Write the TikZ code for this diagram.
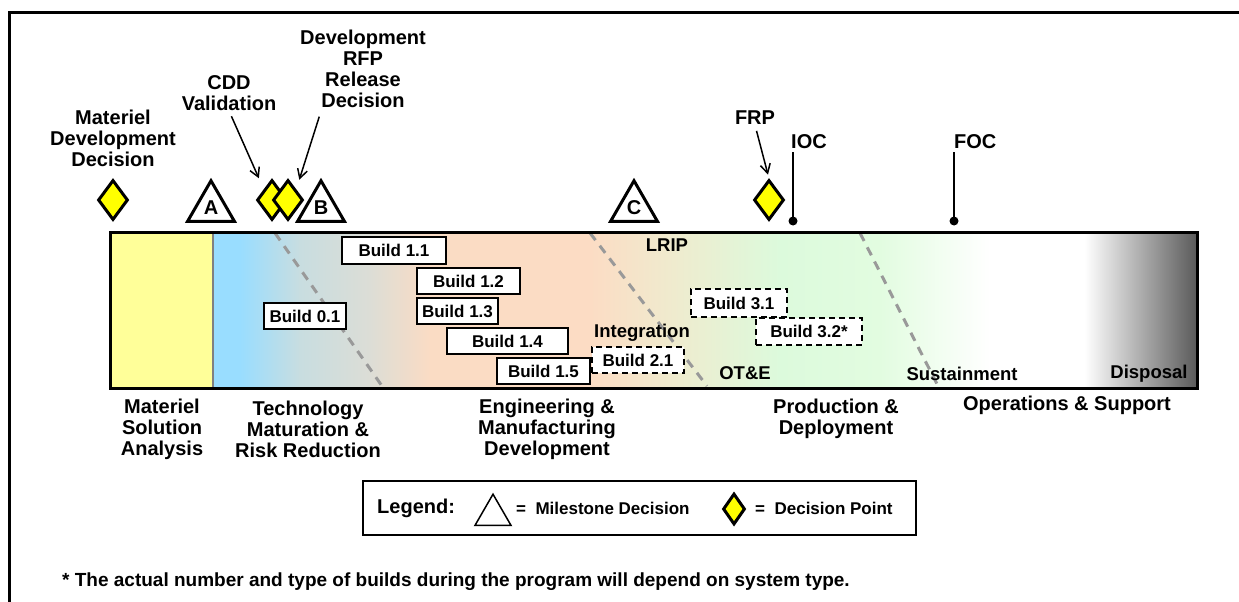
\documentclass[tikz,border=0pt]{standalone}
\usepackage{fontspec}
\setmainfont{Liberation Sans}
\usetikzlibrary{shapes.geometric,arrows.meta}

\definecolor{msayellow}{HTML}{FFFF99}
\definecolor{tmrblue}{HTML}{99DDFF}
\definecolor{tmrmid}{HTML}{C8DDE0}
\definecolor{tmrgray}{HTML}{DCDDD6}
\definecolor{emdpeach}{HTML}{FADCC4}
\definecolor{emdpeachb}{HTML}{FCDCC4}
\definecolor{lripmix}{HTML}{EEECCF}
\definecolor{pdgreen}{HTML}{DCFADC}
\definecolor{pdgreenb}{HTML}{E2FCE0}
\definecolor{dispgray}{HTML}{5A5A5A}
\definecolor{phaseline}{HTML}{999999}
\definecolor{dpyellow}{HTML}{FFFF00}

\newcommand{\boldsize}[1]{\fontsize{#1}{#1+1}\selectfont\bfseries}

\begin{document}
\begin{tikzpicture}[x=1pt,y=-1pt,
    toplbl/.style={font=\fontsize{20}{21}\selectfont\bfseries, align=center, inner sep=0pt},
    barlbl/.style={font=\fontsize{18.5}{19}\selectfont\bfseries, inner sep=0pt},
    buildbox/.style={draw, line width=2.5pt, fill=white, inner sep=0pt,
        minimum height=26pt, font=\fontsize{17}{18}\selectfont\bfseries},
    futurebox/.style={buildbox, dashed, dash pattern=on 6pt off 4pt},
    milestone/.style={regular polygon, regular polygon sides=3, draw, line width=3pt,
        fill=white, minimum size=54.3pt, inner sep=0pt, font=\fontsize{20}{21}\selectfont\bfseries},
    decpt/.style={diamond, draw, line width=3pt, fill=dpyellow, inner sep=0pt,
        minimum width=30pt, minimum height=40pt},
    dot/.style={circle, fill=black, inner sep=0pt, minimum size=9pt},
    pointer/.style={line width=1.5pt, ->, >={Straight Barb[length=9pt,width=10pt]}},
    phasedash/.style={phaseline, line width=3pt, dash pattern=on 9pt off 7pt},
    legtxt/.style={font=\fontsize{17}{18}\selectfont\bfseries, inner sep=0pt, anchor=west}]
    \useasboundingbox (0,0) rectangle (1239,602);

    % outer frame
    \draw[line width=3pt] (9,602) -- (9,13) -- (1239,13);

    % Phase bar
    \fill[msayellow] (110,232) rectangle (213,388);
    \fill[tmrblue] (213,232) rectangle (241,388);
    \foreach \xa/\xb/\ca/\cb in {240/300/tmrblue/tmrmid, 299.5/370/tmrmid/tmrgray,
        369.5/430/tmrgray/emdpeach, 429.5/590/emdpeach/emdpeachb,
        589.5/680/emdpeachb/lripmix, 679.5/780/lripmix/pdgreen,
        779.5/880/pdgreen/pdgreenb, 879.5/990/pdgreenb/white,
        989.5/1085/white/white, 1084.5/1197/white/dispgray}
        \shade[left color=\ca, right color=\cb] (\xa,232) rectangle (\xb,388);

    \draw[phasedash] (275,233) -- (382,386);
    \draw[phasedash] (590,233) -- (707,386);
    \draw[phasedash] (860,233) -- (938,386);
    \draw[gray, line width=2pt] (213,233.5) -- (213,386.5);

    % Builds
    \node[buildbox, minimum width=104pt, minimum height=27pt] (b11) at (394,250.5) {Build 1.1};
    \node[buildbox, minimum width=103pt] (b12) at (468.5,281) {Build 1.2};
    \node[buildbox, minimum width=81pt] (b13) at (457.5,311) {Build 1.3};
    \node[buildbox, minimum width=121pt] (b14) at (507.5,341) {Build 1.4};
    \node[buildbox, minimum width=93pt] (b15) at (543.5,371) {Build 1.5};
    \node[buildbox, minimum width=82pt] (b01) at (305,316) {Build 0.1};
    \node[futurebox, minimum width=92pt] (b21) at (638,360) {Build 2.1};
    \node[futurebox, minimum width=96pt, minimum height=28pt] (b31) at (739,303) {Build 3.1};
    \node[futurebox, minimum width=106pt, minimum height=27pt] (b32) at (809,331.5) {Build 3.2*};

    % labels inside the bar
    \node[barlbl] (lrip) at (667,245) {LRIP};
    \node[barlbl] (integ) at (642,333) {Integration};
    \node[barlbl] (ote) at (745,373) {OT\&E};
    \node[barlbl] (sust) at (962,374) {Sustainment};
    \node[barlbl] (disp) at (1149,374) {Disposal};

    \draw[line width=3pt] (110,232) rectangle (1197,388);

    % Phase names
    \node[toplbl] (msa) at (162,429) {Materiel\\Solution\\Analysis};
    \node[toplbl] (tmrr) at (308,429) {Technology\\Maturation \&\\Risk Reduction};
    \node[toplbl] (emd) at (547,429) {Engineering \&\\Manufacturing\\Development};
    \node[toplbl] (pd) at (836,418.5) {Production \&\\Deployment};
    \node[toplbl] (os) at (1067,405) {Operations \& Support};

    % Milestones and decision points
    \node[milestone] (msA) at (211,207.9) {A};
    \node[milestone] (msB) at (321,207.9) {B};
    \node[milestone] (msC) at (634,207.9) {C};

    \node[decpt] (dmdd) at (113,200) {};
    \node[decpt] (dcdd) at (272,200) {};
    \node[decpt] (drfp) at (288,200) {};
    \node[decpt] (dfrp) at (769,200) {};

    \node[toplbl] (mddlbl) at (113,138) {Materiel\\Development\\Decision};
    \node[toplbl] (cddlbl) at (229,93) {CDD\\Validation};
    \node[toplbl] (rfplbl) at (363,69) {Development\\RFP\\Release\\Decision};
    \node[toplbl] (frplbl) at (755,118) {FRP};

    \draw[pointer, shorten <=6pt, shorten >=12pt] (cddlbl.south) -- (dcdd.north west);
    \draw[pointer, shorten <=9pt, shorten >=10pt] ([xshift=-41pt]rfplbl.south) -- (drfp.north east);
    \draw[pointer, shorten <=6pt, shorten >=4pt] (frplbl.south) -- (dfrp.north);

    % IOC / FOC
    \node[dot] (iocdot) at (793,221) {};
    \node[toplbl, anchor=west] (ioclbl) at (791,142) {IOC};
    \draw[line width=1.5pt] (iocdot.center) -- (iocdot.center |- 0,152);
    \node[dot] (focdot) at (954,221) {};
    \node[toplbl, anchor=west] (foclbl) at (954,142) {FOC};
    \draw[line width=1.5pt] (focdot.center) -- (focdot.center |- 0,152);

    % Legend
    \draw[line width=2.5pt] (363,481) rectangle (916,535);
    \node[toplbl, anchor=west] (legtitle) at (377,508) {Legend:};
    \node[milestone, line width=1.5pt, minimum size=41.6pt] (legms) at (493,515) {};
    \node[legtxt] (legmstxt) at (516,508) {=\ \ Milestone Decision};
    \node[decpt, minimum width=22pt, minimum height=31pt] (legdp) at (734,509) {};
    \node[legtxt] (legdptxt) at (755,508) {=\ \ Decision Point};

    % footnote
    \node[anchor=west, inner sep=0pt, font=\fontsize{19}{20}\selectfont\bfseries] (note) at (62,582)
        {* The actual number and type of builds during the program will depend on system type.};
\end{tikzpicture}
\end{document}
